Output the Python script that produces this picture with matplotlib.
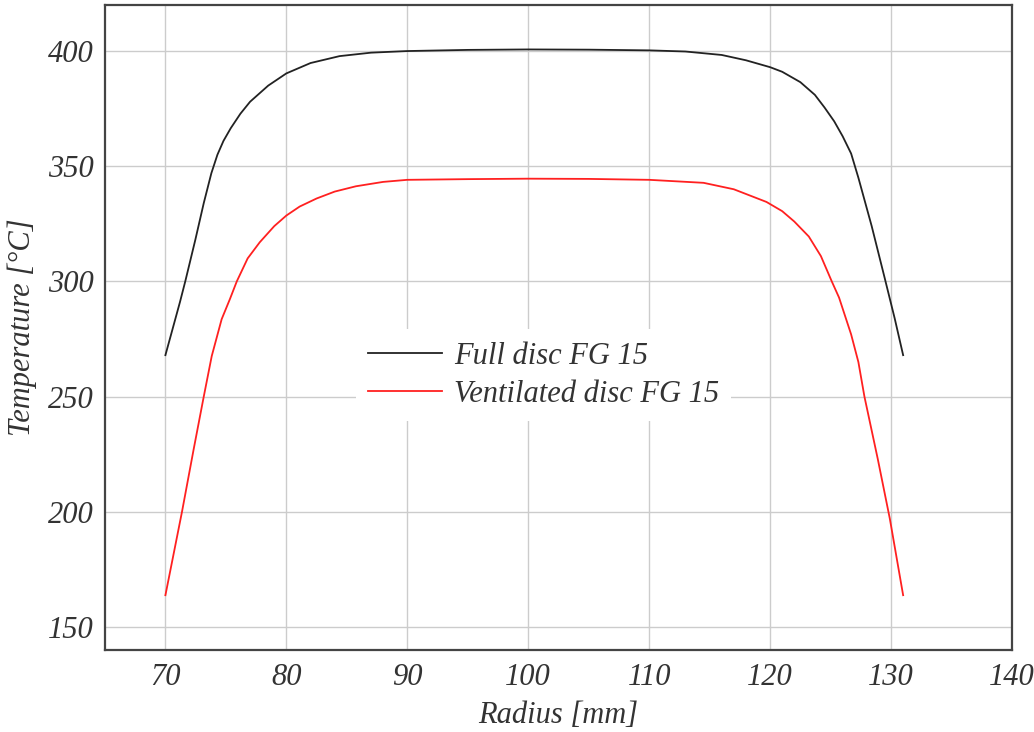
import numpy as np
from matplotlib import pyplot as plt

# radius [mm] and temperature [degC]
full_r = [70, 71.2, 71.64, 72.47, 73.17, 73.8, 74.3, 74.8, 75.4, 76.2, 77, 78.5, 80, 82,
          84.4, 87, 90, 95, 100, 105, 110, 113, 116, 118, 120, 121, 122.5, 123.7, 124.5,
          125.3, 126, 126.7, 127.3, 128.4, 129.45, 130.3, 131]
full_t = [268, 291, 300, 318, 334, 347, 355, 361, 366.5, 372.8, 378, 385, 390.3, 394.8,
          397.8, 399.3, 400, 400.5, 400.7, 400.6, 400.3, 399.8, 398.3, 396, 393, 391,
          386.5, 381, 375.5, 369.5, 363, 355.5, 345, 324, 302, 284, 268]

vent_r = [70, 71.37, 72.33, 73.17, 73.83, 74.65, 75.33, 75.9, 76.8, 77.8, 79, 80, 81.1,
          82.5, 84, 85.75, 88, 90, 95, 100, 105, 110, 114.5, 117, 119.7, 121, 122,
          123.2, 124.2, 125.1, 125.7, 126.2, 126.7, 127.3, 127.8, 128.9, 129.9, 131]
vent_t = [163.8, 200, 227, 250, 267.6, 283.6, 292.3, 300, 310, 317, 324, 328.6, 332.5,
          336, 339, 341.3, 343.2, 344.1, 344.4, 344.6, 344.5, 344.1, 342.8, 340, 334.5,
          330.5, 326, 319.5, 311, 300, 293, 285, 277, 265, 250, 223, 197, 163.8]

x_ticks = [70, 80, 90, 100, 110, 120, 130, 140]
y_ticks = [150, 200, 250, 300, 350, 400]

plt.rcParams['font.family'] = ['Liberation Serif', 'DejaVu Serif']
plt.rcParams['font.style'] = 'italic'
txt = '#333333'
fs = 22

fig = plt.figure(figsize=(10.34, 7.32), dpi=100)
ax = fig.add_axes([0.1015, 0.112, 0.8772, 0.8812])

ax.plot(full_r, full_t, color='#222222', lw=1.3, label='Full disc FG 15')
ax.plot(vent_r, vent_t, color='#ff2020', lw=1.3, label='Ventilated disc FG 15')

ax.set_xlim(65, 140)
ax.set_ylim(140, 420)
ax.set_xticks(x_ticks)
ax.set_yticks(y_ticks)
ax.grid(True, color='#cccccc', lw=1.0)
ax.set_axisbelow(True)
ax.tick_params(length=0, labelsize=fs, labelcolor=txt)
ax.tick_params(axis='x', pad=9)
ax.tick_params(axis='y', pad=8)
for lab in ax.get_xticklabels() + ax.get_yticklabels():
    lab.set_fontstyle('italic')
for s in ax.spines.values():
    s.set_color('#444444')
    s.set_linewidth(1.6)

ax.set_xlabel('Radius [mm]', fontsize=fs, color=txt, labelpad=7)
ax.set_ylabel('Temperature [°C]', fontsize=fs, color=txt, labelpad=8)

leg = ax.legend(loc='center left', bbox_to_anchor=(0.26, 0.426), fontsize=fs,
                frameon=True, facecolor='white', edgecolor='none', framealpha=1,
                fancybox=False, handlelength=2.4, handletextpad=0.4,
                labelspacing=0.3, borderpad=0.4)
for t in leg.get_texts():
    t.set_color(txt)

fig.savefig('out.png', dpi=100)
